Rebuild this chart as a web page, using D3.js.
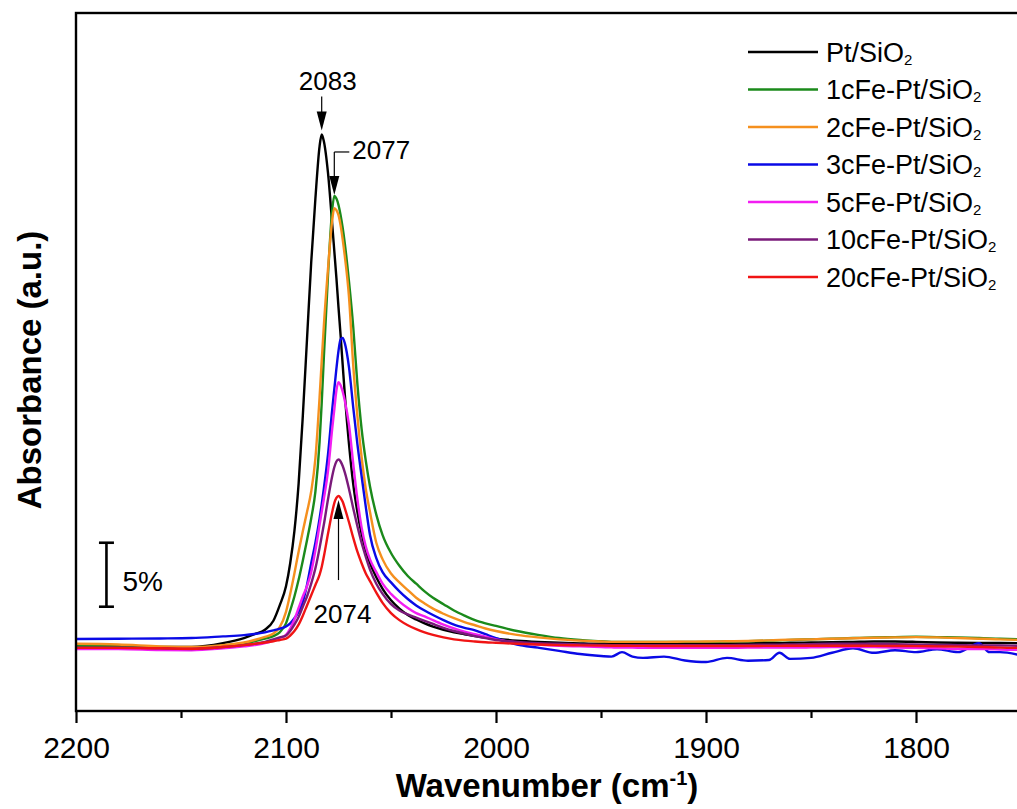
<!DOCTYPE html>
<html>
<head>
<meta charset="utf-8">
<script src="https://cdn.jsdelivr.net/npm/d3@7"></script>
<style>
  body { margin: 0; background: #fff; }
  text { font-family: "Liberation Sans", Arial, sans-serif; fill: #000; }
</style>
</head>
<body>
<svg id="chart" width="1017" height="809"></svg>
<script>
// wavenumber grid (cm-1), shared by all spectra
var wavenumber = [
  2200, 2180, 2160, 2145, 2130, 2120, 2115, 2110, 2106, 2103,
  2100, 2098, 2096, 2094, 2092, 2090, 2088, 2086, 2084, 2083,
  2082, 2080, 2078, 2077, 2076, 2075, 2074, 2073, 2072, 2070,
  2068, 2066, 2064, 2062, 2060, 2057, 2054, 2050, 2046, 2042,
  2038, 2034, 2030, 2025, 2020, 2015, 2010, 2005, 2000, 1990,
  1980, 1970, 1960, 1950, 1945, 1940, 1935, 1930, 1920, 1910,
  1900, 1890, 1880, 1870, 1865, 1860, 1850, 1840, 1830, 1820,
  1810, 1800, 1790, 1780, 1770, 1765, 1760, 1750];

// absorbance (%)
var ptSiO2 = [
  -0.40, -0.45, -0.55, -0.55, -0.25, 0.15, 0.45, 0.80, 1.50, 2.70,
  4.2, 6.0, 8.5, 12.2, 17.5, 23.5, 29.5, 34.5, 38.6, 39.5,
  39.0, 36.5, 32.5, 30.4, 28.3, 26.0, 23.8, 21.5, 19.2, 15.3,
  12.2, 10.0, 8.3, 7.0, 6.0, 4.9, 4.0, 3.1, 2.45, 1.95,
  1.6, 1.3, 1.05, 0.8, 0.6, 0.45, 0.3, 0.2, 0.1, -0.05,
  -0.15, -0.22, -0.27, -0.3, -0.3, -0.3, -0.3, -0.3, -0.3, -0.3,
  -0.3, -0.28, -0.27, -0.25, -0.25, -0.22, -0.2, -0.18, -0.15, -0.12,
  -0.12, -0.15, -0.2, -0.22, -0.23, -0.23, -0.23, -0.25];

var fe1 = [
  -0.47, -0.50, -0.60, -0.62, -0.45, -0.25, -0.10, 0.10, 0.30, 0.60,
  1.3, 2.3, 3.4, 4.7, 6.2, 7.8, 9.5, 11.6, 15.5, 18.5,
  22.0, 28.5, 33.6, 34.7, 34.5, 34.0, 33.2, 32.2, 31.0, 28.0,
  24.5, 20.0, 16.5, 14.0, 12.0, 9.8, 8.2, 6.8, 5.8, 5.0,
  4.4, 3.8, 3.3, 2.8, 2.3, 1.9, 1.55, 1.3, 1.1, 0.7,
  0.4, 0.15, 0.0, -0.1, -0.15, -0.15, -0.15, -0.15, -0.15, -0.15,
  -0.15, -0.12, -0.1, -0.05, -0.02, 0.0, 0.05, 0.1, 0.15, 0.2,
  0.22, 0.25, 0.22, 0.2, 0.15, 0.12, 0.1, 0.05];

var fe2 = [
  -0.30, -0.35, -0.50, -0.55, -0.40, -0.20, 0.00, 0.25, 0.50, 1.00,
  2.2, 3.6, 5.2, 6.9, 8.5, 10.0, 11.6, 14.2, 19.0, 21.8,
  24.5, 29.0, 32.8, 33.75, 33.6, 33.2, 32.4, 31.3, 30.0, 26.8,
  21.5, 17.5, 14.3, 11.8, 10.0, 7.6, 6.3, 5.2, 4.5, 3.9,
  3.3, 2.85, 2.45, 2.05, 1.7, 1.4, 1.15, 0.9, 0.7, 0.4,
  0.2, 0.05, -0.05, -0.12, -0.15, -0.15, -0.15, -0.15, -0.15, -0.13,
  -0.12, -0.1, -0.08, -0.03, 0.0, 0.02, 0.05, 0.1, 0.13, 0.17,
  0.2, 0.22, 0.2, 0.15, 0.1, 0.08, 0.05, 0.0];

var fe3 = [
  0.08, 0.10, 0.12, 0.15, 0.28, 0.38, 0.47, 0.60, 0.75, 0.88,
  1.05, 1.3, 1.7, 2.2, 3.0, 4.3, 6.0, 7.6, 9.5, 10.6,
  11.8, 14.5, 18.0, 19.6, 21.2, 22.6, 23.5, 23.6, 23.2, 21.3,
  18.2, 15.3, 12.8, 10.4, 8.2, 6.4, 5.3, 4.5, 3.8, 3.2,
  2.7, 2.3, 1.95, 1.55, 1.2, 0.95, 0.75, 0.45, 0.15, -0.35,
  -0.6, -0.85, -1.1, -1.25, -1.3, -0.95, -1.3, -1.4, -1.3, -1.6,
  -1.72, -1.4, -1.62, -1.56, -1.0, -1.48, -1.4, -1.0, -0.65, -1.0,
  -0.8, -0.95, -0.72, -0.95, -0.25, -0.95, -0.95, -1.2];

var fe5 = [
  -0.70, -0.70, -0.78, -0.80, -0.65, -0.50, -0.40, -0.25, -0.05, 0.15,
  0.4, 0.9, 1.6, 2.5, 3.4, 4.2, 5.3, 7.0, 9.0, 10.0,
  11.0, 13.2, 16.5, 18.0, 19.5, 20.15, 19.9, 19.4, 18.7, 16.8,
  13.8, 11.0, 8.8, 7.3, 6.3, 5.3, 4.4, 3.6, 3.0, 2.5,
  2.1, 1.85, 1.55, 1.2, 0.9, 0.65, 0.45, 0.25, 0.05, -0.2,
  -0.35, -0.45, -0.5, -0.55, -0.58, -0.6, -0.6, -0.62, -0.62, -0.62,
  -0.62, -0.62, -0.6, -0.6, -0.6, -0.6, -0.58, -0.55, -0.55, -0.55,
  -0.6, -0.62, -0.65, -0.7, -0.7, -0.72, -0.75, -0.78];

var fe10 = [
  -0.60, -0.60, -0.65, -0.70, -0.55, -0.40, -0.30, -0.15, 0.05, 0.20,
  0.35, 0.7, 1.2, 1.8, 2.6, 3.4, 4.4, 5.6, 7.2, 8.1,
  9.0, 11.0, 12.8, 13.5, 13.95, 14.1, 13.95, 13.6, 13.1, 11.8,
  10.3, 8.9, 7.6, 6.5, 5.5, 4.4, 3.6, 2.8, 2.3, 2.0,
  1.75, 1.5, 1.25, 0.95, 0.7, 0.5, 0.3, 0.15, 0.0, -0.15,
  -0.25, -0.3, -0.35, -0.38, -0.4, -0.4, -0.4, -0.4, -0.4, -0.4,
  -0.4, -0.4, -0.38, -0.37, -0.36, -0.35, -0.33, -0.3, -0.3, -0.3,
  -0.32, -0.35, -0.38, -0.4, -0.42, -0.42, -0.43, -0.45];

var fe20 = [
  -0.62, -0.62, -0.65, -0.68, -0.55, -0.40, -0.30, -0.20, -0.10, 0.0,
  0.1, 0.35, 0.7, 1.2, 1.9, 2.7, 3.5, 4.3, 5.1, 5.7,
  6.5, 8.3, 10.0, 10.7, 11.1, 11.25, 11.1, 10.8, 10.3, 9.2,
  8.0, 6.9, 6.0, 5.2, 4.6, 3.7, 2.9, 2.1, 1.55, 1.15,
  0.85, 0.6, 0.4, 0.2, 0.05, -0.05, -0.12, -0.18, -0.22, -0.3,
  -0.35, -0.4, -0.42, -0.44, -0.45, -0.45, -0.46, -0.46, -0.47, -0.47,
  -0.47, -0.47, -0.47, -0.46, -0.46, -0.45, -0.45, -0.45, -0.45, -0.46,
  -0.47, -0.48, -0.5, -0.52, -0.55, -0.57, -0.6, -0.62];

var seriesNames = ["Pt/SiO2", "1cFe-Pt/SiO2", "2cFe-Pt/SiO2", "3cFe-Pt/SiO2",
                   "5cFe-Pt/SiO2", "10cFe-Pt/SiO2", "20cFe-Pt/SiO2"];
var seriesValues = [ptSiO2, fe1, fe2, fe3, fe5, fe10, fe20];
var seriesColors = ["#000000", "#1b8a1b", "#f5901e", "#0a0ae6", "#f21ef2", "#7a1a7a", "#f01414"];

var xTicks = [2200, 2100, 2000, 1900, 1800];
var xMinorTicks = [2150, 2050, 1950, 1850];

// peak labels: wavenumber shown, peak position, peak height
var peakLabels = ["2083", "2077", "2074"];
var peakAt = [2083, 2077, 2075];
var peakTop = [39.5, 34.7, 11.25];

// 5 % scale bar
var barAt = 2185.5, barFrom = 2.6, barSize = 5;

var svg = d3.select("#chart");
var plotL = 76, plotT = 13, plotB = 711, plotR = 1021;

var x = d3.scaleLinear().domain([2200, 1750]).range([plotL, plotR]);
var y = d3.scaleLinear().domain([-5.55, 49]).range([plotB, plotT]);

// spectra
var line = d3.line()
  .x(function(d) { return x(d[0]); })
  .y(function(d) { return y(d[1]); })
  .curve(d3.curveMonotoneX);

seriesValues.forEach(function(vals, i) {
  var pts = wavenumber.map(function(w, j) { return [w, vals[j]]; });
  svg.append("path")
    .datum(pts)
    .attr("class", "spectrum")
    .attr("d", line)
    .style("fill", "none")
    .style("stroke", seriesColors[i])
    .style("stroke-width", 2.4)
    .style("stroke-linejoin", "round");
});

// frame
svg.append("rect")
  .attr("x", plotL).attr("y", plotT)
  .attr("width", plotR - plotL).attr("height", plotB - plotT)
  .style("fill", "none")
  .style("stroke", "#000")
  .style("stroke-width", 2.4);

// x axis
var xAxis = svg.append("g")
  .attr("transform", "translate(0," + plotB + ")")
  .call(d3.axisBottom(x).tickValues(xTicks).tickSize(12).tickPadding(14).tickFormat(d3.format("d")));
xAxis.select(".domain").remove();
xAxis.selectAll("line").style("stroke-width", 2.2);
xAxis.selectAll("text")
  .style("font-family", "'Liberation Sans', Arial, sans-serif")
  .style("font-size", "30px");

var xMinor = svg.append("g")
  .attr("transform", "translate(0," + plotB + ")")
  .call(d3.axisBottom(x).tickValues(xMinorTicks).tickSize(7).tickFormat(""));
xMinor.select(".domain").remove();
xMinor.selectAll("line").style("stroke-width", 2.2);

// axis titles
var xt = svg.append("text")
  .attr("x", 547).attr("y", 797)
  .attr("text-anchor", "middle")
  .style("font-size", "33px").style("font-weight", "bold");
xt.append("tspan").text("Wavenumber (cm");
xt.append("tspan").attr("dy", -12).style("font-size", "20px").text("-1");
xt.append("tspan").attr("dy", 12).text(")");

svg.append("text")
  .attr("transform", "translate(41,370) rotate(-90)")
  .attr("text-anchor", "middle")
  .style("font-size", "33px").style("font-weight", "bold")
  .text("Absorbance (a.u.)");

// legend
seriesNames.forEach(function(name, i) {
  var ly = 52 + i * 37.5;
  svg.append("line")
    .attr("x1", 748).attr("x2", 818).attr("y1", ly).attr("y2", ly)
    .style("stroke", seriesColors[i]).style("stroke-width", 2.6);
  var t = svg.append("text")
    .attr("x", 826).attr("y", ly + 9.5)
    .style("font-size", "27px");
  t.append("tspan").text(name.slice(0, -1));
  t.append("tspan").attr("dy", 3).style("font-size", "15px").text(name.slice(-1));
});

// arrowheads
function arrowHead(cx, tipY, dir) {
  // dir = 1 pointing down, -1 pointing up
  var b = tipY - dir * 19;
  svg.append("path")
    .attr("d", "M" + cx + "," + tipY + "L" + (cx - 5) + "," + b + "L" + (cx + 5) + "," + b + "Z")
    .style("fill", "#000");
}
function thin(x1, y1, x2, y2) {
  svg.append("line")
    .attr("x1", x1).attr("y1", y1).attr("x2", x2).attr("y2", y2)
    .style("stroke", "#000").style("stroke-width", 1.2);
}

// 2083
var ax = x(peakAt[0]), ay = y(peakTop[0]) - 4;
thin(ax, ay - 34, ax, ay - 10);
arrowHead(ax, ay, 1);
svg.append("text").attr("x", ax + 6).attr("y", ay - 41)
  .attr("text-anchor", "middle").style("font-size", "26px").text(peakLabels[0]);

// 2077
ax = x(peakAt[1]); ay = y(peakTop[1]) - 1;
thin(ax, ay - 43, ax, ay - 10);
thin(ax, ay - 43, ax + 15, ay - 43);
arrowHead(ax, ay, 1);
svg.append("text").attr("x", ax + 18).attr("y", ay - 36)
  .style("font-size", "26px").text(peakLabels[1]);

// 2074
ax = x(peakAt[2]); ay = y(peakTop[2]) + 4;
thin(ax, ay + 10, ax, ay + 80);
arrowHead(ax, ay, -1);
svg.append("text").attr("x", ax + 4).attr("y", ay + 123)
  .attr("text-anchor", "middle").style("font-size", "26px").text(peakLabels[2]);

// scale bar
var bx = x(barAt), b0 = y(barFrom), b1 = y(barFrom + barSize);
[[bx, b0, bx, b1], [bx - 7.5, b0, bx + 7.5, b0], [bx - 7.5, b1, bx + 7.5, b1]].forEach(function(s) {
  svg.append("line")
    .attr("x1", s[0]).attr("y1", s[1]).attr("x2", s[2]).attr("y2", s[3])
    .style("stroke", "#000").style("stroke-width", 2.6);
});
svg.append("text").attr("x", bx + 16).attr("y", (b0 + b1) / 2 + 16)
  .style("font-size", "28px").text(barSize + "%");
</script>
</body>
</html>
